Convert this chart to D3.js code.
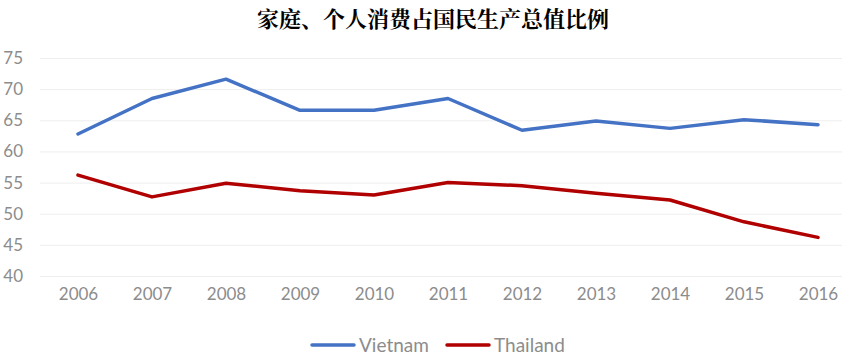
<!DOCTYPE html>
<html><head><meta charset="utf-8">
<script src="https://cdn.jsdelivr.net/npm/d3@7"></script>
<style>body{margin:0;background:#fff}svg{display:block}</style>
</head><body>
<svg id="c" width="842" height="357"></svg>
<script>
const years = ["2006","2007","2008","2009","2010","2011","2012","2013","2014","2015","2016"];
const vietnam = [62.8,68.5,71.6,66.6,66.6,68.5,63.4,64.9,63.7,65.1,64.3];
const thailand = [56.2,52.7,54.9,53.7,53.0,55.0,54.5,53.3,52.2,48.7,46.2];
const yTicks = [40,45,50,55,60,65,70,75];
const seriesNames = ["Vietnam","Thailand"];
const colors = ["#4472C4","#B00000"];
const title = "家庭、个人消费占国民生产总值比例";

const svg = d3.select("#c");
const x = d3.scalePoint().domain(years).range([78, 818]);
const y = d3.scaleLinear().domain([40, 75]).range([276, 58]);
const font = "Lato, 'Open Sans', sans-serif";

svg.append("text").attr("x", 433).attr("y", 27).attr("text-anchor","middle")
  .attr("font-family","'Noto Serif CJK SC','Noto Sans CJK SC',serif").attr("font-weight","bold")
  .attr("font-size",22).attr("fill","#000").text(title);

// gridlines
svg.append("g").selectAll("line").data(yTicks).join("line")
  .attr("x1",40).attr("x2",842).attr("y1",d=>y(d)+0.5).attr("y2",d=>y(d)+0.5)
  .attr("stroke","#eeeeee").attr("stroke-width",1);

// y axis labels
const yAxis = d3.axisLeft(y).tickValues(yTicks).tickSize(0).tickPadding(0);
const gy = svg.append("g").attr("transform","translate(23,0)").call(yAxis);
gy.select(".domain").remove();
gy.selectAll("text").attr("font-family",font).attr("font-size",17).attr("fill","#8c8c8c");

// x axis labels
const xAxis = d3.axisBottom(x).tickSize(0).tickPadding(0);
const gx = svg.append("g").attr("transform","translate(0,288)").call(xAxis);
gx.select(".domain").remove();
gx.selectAll("text").attr("font-family",font).attr("font-size",17).attr("fill","#8c8c8c");

const line = d3.line().x((d,i)=>x(years[i])).y(d=>y(d));
[vietnam, thailand].forEach((s,i)=>{
  svg.append("path").datum(s).attr("d",line).attr("fill","none")
    .attr("stroke",colors[i]).attr("stroke-width",3.5).attr("stroke-linejoin","round").attr("stroke-linecap","round");
});

// legend
const legX = [312, 447];
seriesNames.forEach((n,i)=>{
  const g = svg.append("g").attr("transform",`translate(${legX[i]},345)`);
  g.append("line").attr("x1",0).attr("x2",42).attr("y1",0).attr("y2",0)
    .attr("stroke",colors[i]).attr("stroke-width",3.5).attr("stroke-linecap","round");
  g.append("text").attr("x",47).attr("y",7).attr("font-family",font).attr("font-size",19)
    .attr("fill","#8c8c8c").text(n);
});
</script>
</body></html>
